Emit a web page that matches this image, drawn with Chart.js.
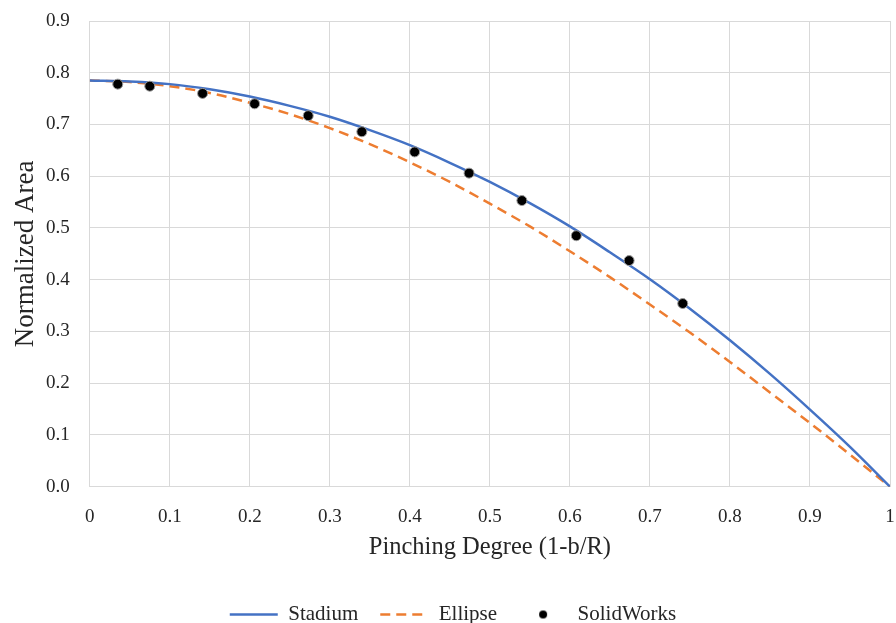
<!DOCTYPE html>
<html>
<head>
<meta charset="utf-8">
<script src="https://cdn.jsdelivr.net/npm/chart.js@4.4.0/dist/chart.umd.min.js"></script>
<style>
  html, body { margin: 0; padding: 0; background: #fff; }
  #wrap { width: 896px; height: 623px; }
</style>
</head>
<body>
<div id="wrap"><canvas id="chart"></canvas></div>
<script>
// values
const pinching = [0, 0.05, 0.1, 0.15, 0.2, 0.25, 0.3, 0.35, 0.4, 0.45, 0.5,
                  0.55, 0.6, 0.65, 0.7, 0.75, 0.8, 0.85, 0.9, 0.95, 1];
const stadiumArea = [0.785, 0.783, 0.778, 0.768, 0.754, 0.736, 0.715, 0.689, 0.660, 0.626, 0.589,
                     0.548, 0.503, 0.453, 0.401, 0.344, 0.283, 0.218, 0.149, 0.077, 0];
const ellipseArea = [0.785, 0.782, 0.774, 0.761, 0.742, 0.720, 0.693, 0.662, 0.627, 0.589, 0.547,
                     0.503, 0.455, 0.405, 0.352, 0.298, 0.241, 0.182, 0.123, 0.062, 0];
const swPinching = [0.035, 0.075, 0.141, 0.206, 0.273, 0.340, 0.406, 0.474, 0.540, 0.608, 0.674, 0.741];
const swArea = [0.778, 0.774, 0.760, 0.740, 0.717, 0.686, 0.647, 0.606, 0.553, 0.485, 0.437, 0.354];
const xTicks = [0, 0.1, 0.2, 0.3, 0.4, 0.5, 0.6, 0.7, 0.8, 0.9, 1];
const yTicks = [0, 0.1, 0.2, 0.3, 0.4, 0.5, 0.6, 0.7, 0.8, 0.9];

const FONT = "'Liberation Serif', 'DejaVu Serif', serif";
const TEXT = '#262626';
const GRID = '#d9d9d9';
const ELLIPSE_DASH = [10, 6];

const toPoints = (xs, ys) => xs.map((x, i) => ({ x: x, y: ys[i] }));

// small black dot for the legend entry (circle style would get stretched)
const dot = document.createElement('canvas');
dot.width = 10; dot.height = 10;
const dctx = dot.getContext('2d');
dctx.fillStyle = '#000';
dctx.beginPath(); dctx.arc(5, 5, 4, 0, Math.PI * 2); dctx.fill();

const ctx = document.getElementById('chart').getContext('2d');
new Chart(ctx, {
  type: 'scatter',
  data: {
    datasets: [
      {
        label: 'Stadium',
        data: toPoints(pinching, stadiumArea),
        showLine: true,
        borderColor: '#4472C4',
        backgroundColor: '#4472C4',
        borderWidth: 2.5,
        pointRadius: 0,
        cubicInterpolationMode: 'monotone',
        pointStyle: 'line',
        order: 2
      },
      {
        label: 'Ellipse',
        data: toPoints(pinching, ellipseArea),
        showLine: true,
        borderColor: '#ED7D31',
        backgroundColor: '#ED7D31',
        borderWidth: 2.5,
        borderDash: ELLIPSE_DASH,
        pointRadius: 0,
        cubicInterpolationMode: 'monotone',
        pointStyle: 'line',
        order: 3
      },
      {
        label: 'SolidWorks',
        data: toPoints(swPinching, swArea),
        showLine: false,
        backgroundColor: '#000',
        borderColor: '#9a9a9a',
        borderWidth: 1,
        pointRadius: 5,
        pointStyle: 'circle',
        order: 1
      }
    ]
  },
  options: {
    responsive: true,
    maintainAspectRatio: false,
    animation: false,
    layout: { padding: { left: 12, right: 2, top: 21, bottom: -12 } },
    plugins: {
      tooltip: { enabled: false },
      legend: {
        position: 'bottom',
        labels: {
          font: { family: FONT, size: 21 },
          color: TEXT,
          usePointStyle: true,
          pointStyleWidth: 48,
          boxHeight: 21,
          padding: 22,
          sort: (a, b) => a.datasetIndex - b.datasetIndex,
          generateLabels(chart) {
            const items = Chart.defaults.plugins.legend.labels.generateLabels(chart);
            items.forEach(it => {
              if (it.text === 'SolidWorks') it.pointStyle = dot;
              if (it.text === 'Ellipse') it.lineDash = ELLIPSE_DASH;
            });
            return items;
          }
        }
      }
    },
    scales: {
      x: {
        type: 'linear',
        min: 0,
        max: 1,
        afterBuildTicks(axis) { axis.ticks = xTicks.map(v => ({ value: v })); },
        // invisible tick marks push the labels down without widening the side padding
        grid: { color: GRID, lineWidth: 1, drawTicks: true, tickLength: 18, tickColor: 'rgba(0,0,0,0)' },
        border: { color: GRID },
        ticks: {
          font: { family: FONT, size: 19 },
          color: TEXT,
          padding: 1,
          maxRotation: 0,
          callback: v => (v === 0 || v === 1) ? String(v) : v.toFixed(1)
        },
        title: {
          display: true,
          text: 'Pinching Degree (1-b/R)',
          font: { family: FONT, size: 24.5, lineHeight: 1 },
          color: TEXT,
          padding: { top: 6, bottom: 22 }
        }
      },
      y: {
        type: 'linear',
        min: 0,
        max: 0.9,
        afterBuildTicks(axis) { axis.ticks = yTicks.map(v => ({ value: v })); },
        grid: { color: GRID, lineWidth: 1, drawTicks: true, tickLength: 18, tickColor: 'rgba(0,0,0,0)' },
        border: { color: GRID },
        ticks: {
          font: { family: FONT, size: 19 },
          color: TEXT,
          padding: 2,
          callback: v => v.toFixed(1)
        },
        title: {
          display: true,
          text: 'Normalized Area',
          font: { family: FONT, size: 27, lineHeight: 1 },
          color: TEXT,
          padding: { top: 0, bottom: 5 }
        }
      }
    }
  }
});
</script>
</body>
</html>
